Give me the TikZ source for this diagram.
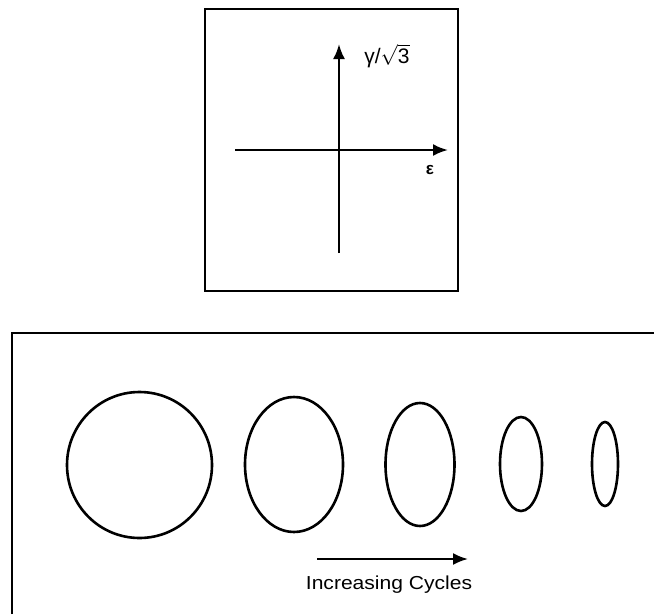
\documentclass[tikz,border=0pt]{standalone}
\usepackage{fontspec}
\setmainfont{Liberation Sans}
\usetikzlibrary{arrows.meta,shapes.geometric}
\begin{document}
\begin{tikzpicture}[x=1pt,y=-1pt,
  frame/.style={line width=1.6pt},
  axis/.style={line width=2.4pt,-{Latex[length=15pt,width=12pt]}},
  orbit/.style={draw,ellipse,line width=2.6pt,inner sep=0pt},
  lbl/.style={inner sep=0pt}]
\useasboundingbox (0,0) rectangle (654,614);
% top panel
\node[draw,frame,minimum width=253pt,minimum height=282pt,inner sep=0pt] (panel) at (331.5,150) {};
\coordinate (vb) at (339,253);
\coordinate (vt) at (339,44);
\coordinate (hl) at (235,150);
\coordinate (hr) at (448,150);
\draw[axis] (vb) -- (vt);
\draw[axis] (hl) -- (hr);
\node[lbl,font=\fontsize{21}{24}\selectfont] (gl) at (387,56) {γ/$\sqrt{\mbox{3}}$};
\node[lbl,font=\fontsize{17}{20}\selectfont\bfseries] (el) at (430,170) {ε};
% bottom panel
\coordinate (bl) at (12,614);
\coordinate (tl) at (12,333);
\coordinate (tr) at (654,333);
\draw[frame] (bl) -- (tl) -- (tr);
\node[orbit,minimum width=145pt,minimum height=146pt] (o1) at (139.5,465) {};
\node[orbit,minimum width=98pt,minimum height=135pt] (o2) at (294,464.5) {};
\node[orbit,minimum width=69pt,minimum height=123pt] (o3) at (420,464.5) {};
\node[orbit,minimum width=42pt,minimum height=94pt] (o4) at (521,464) {};
\node[orbit,minimum width=26pt,minimum height=84pt] (o5) at (605,464) {};
\coordinate (as) at (317,559);
\coordinate (ae) at (468,559);
\draw[line width=2.2pt,-{Latex[length=15pt,width=12pt]}] (as) -- (ae);
\node[lbl,font=\fontsize{18.8}{22}\selectfont,xscale=1.12] (ic) at (389,585) {Increasing Cycles};
\end{tikzpicture}
\end{document}
